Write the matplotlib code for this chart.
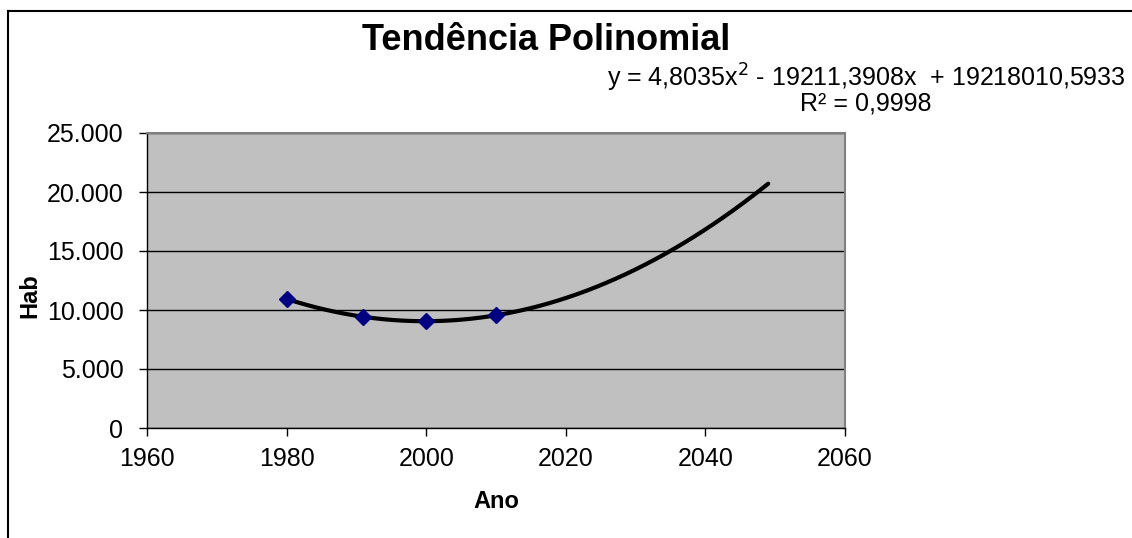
import matplotlib.pyplot as plt
import numpy as np
from matplotlib.ticker import FuncFormatter
from matplotlib.lines import Line2D

plt.rcParams['font.family'] = ['Liberation Sans', 'DejaVu Sans']

anos = [1980, 1991, 2000, 2010]
hab = [10940, 9420, 9055, 9550]
equacao = "y = 4,8035x$^2$ - 19211,3908x  + 19218010,5933"
r2_texto = "R² = 0,9998"

fig = plt.figure(figsize=(11.32, 5.38), dpi=100)
ax = fig.add_axes([147/1132, 1 - 428/538, (845 - 147)/1132, (428 - 133)/538])
ax.set_facecolor("#c0c0c0")

# trend line (2nd degree polynomial, forecast to 2049)
coef = np.polyfit(anos, hab, 2)
xt = np.linspace(1980, 2049, 200)
ax.plot(xt, np.polyval(coef, xt), color="black", lw=3, zorder=3,
        solid_capstyle="round")
ax.plot(anos, hab, linestyle="none", marker="D", markersize=8,
        color="#000080", markeredgecolor="#000080", zorder=4)

ax.set_xlim(1960, 2060)
ax.set_ylim(0, 25000)
ax.set_xticks(range(1960, 2061, 20))
ax.set_yticks(range(0, 25001, 5000))
ax.yaxis.set_major_formatter(FuncFormatter(lambda v, p: f"{int(v):,}".replace(",", ".")))
ax.grid(axis="y", color="black", lw=1)
ax.set_axisbelow(True)
ax.tick_params(labelsize=18, length=6, width=1, direction="out")
ax.tick_params(axis="x", pad=8)
ax.tick_params(axis="y", pad=11)

for s in ["top", "right"]:
    ax.spines[s].set_color("#808080")
    ax.spines[s].set_linewidth(1.5)
for s in ["left", "bottom"]:
    ax.spines[s].set_color("black")
    ax.spines[s].set_linewidth(1)

fig.text(546/1132, 1 - 40/538, "Tendência Polinomial", ha="center", va="center",
         fontsize=26, fontweight="bold")
fig.text(866/1132, 1 - 78/538, equacao, ha="center", va="center", fontsize=18)
fig.text(866/1132, 1 - 104/538, r2_texto, ha="center", va="center", fontsize=18)
fig.text(496/1132, 1 - 501/538, "Ano", ha="center", va="center",
         fontsize=17, fontweight="bold")
fig.text(30/1132, 1 - 296/538, "Hab", ha="center", va="center", rotation=90,
         fontsize=17, fontweight="bold")

# chart area frame
fig.add_artist(Line2D([7.5/1132, 1.0], [1 - 10.5/538, 1 - 10.5/538],
                      transform=fig.transFigure, color="black", lw=1.5))
fig.add_artist(Line2D([7.5/1132, 7.5/1132], [0, 1 - 10.5/538],
                      transform=fig.transFigure, color="black", lw=1.5))

fig.savefig("out.png", dpi=100)
